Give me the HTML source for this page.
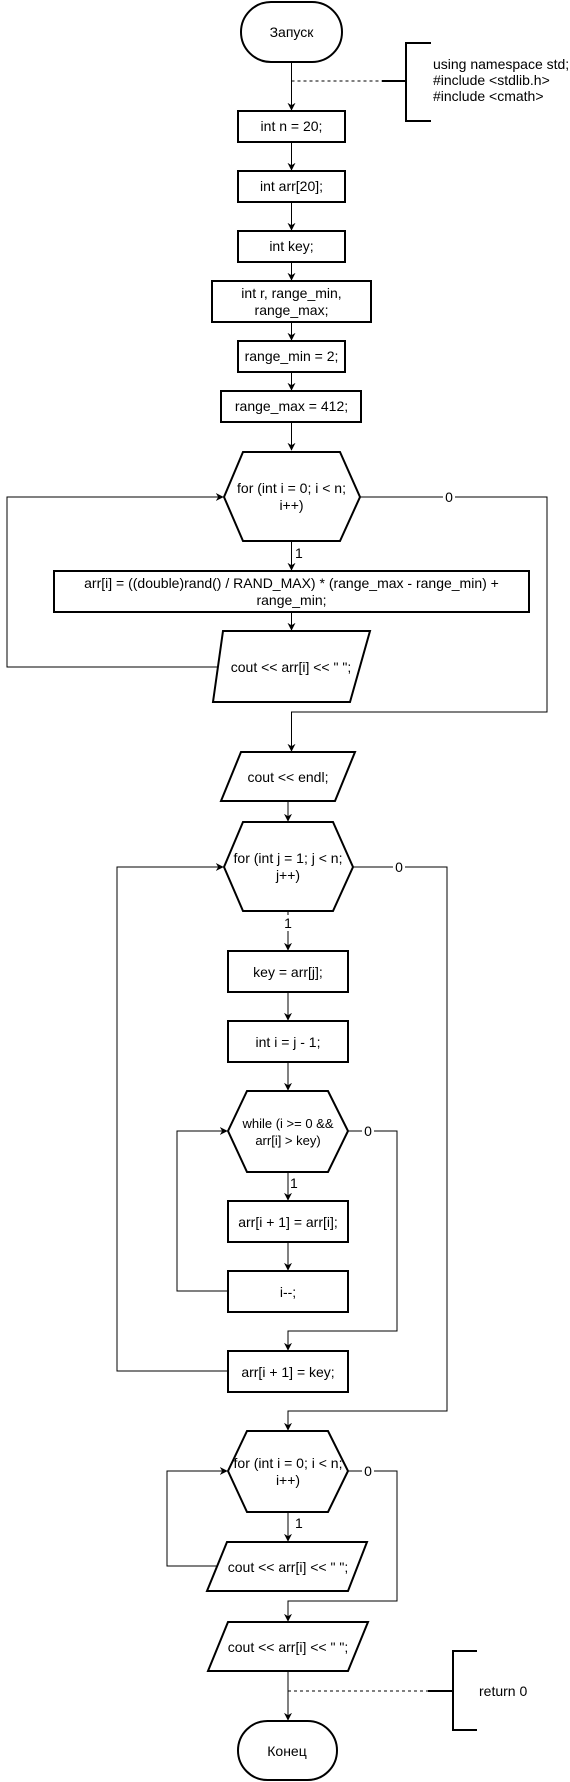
<!DOCTYPE html>
<html><head><meta charset="utf-8"><style>
html,body{margin:0;padding:0;background:#fff}
svg{display:block}
text{font-family:"Liberation Sans",Arial,"Noto Sans CJK SC",sans-serif;font-size:14px;fill:#000}
</style></head><body>
<svg width="570" height="1782" viewBox="0 0 570 1782" xmlns="http://www.w3.org/2000/svg">
<defs>
<marker id="a" viewBox="0 0 10 10" refX="9" refY="5" markerWidth="8" markerHeight="8" orient="auto" markerUnits="userSpaceOnUse">
<path d="M0,0 L10,5 L0,10 L3,5 z" fill="#000"/>
</marker>
</defs>
<g fill="none" stroke="#000" stroke-width="1">
<!-- top chain -->
<line x1="291.5" y1="62" x2="291.5" y2="110" marker-end="url(#a)"/>
<line x1="291.5" y1="142" x2="291.5" y2="170" marker-end="url(#a)"/>
<line x1="291.5" y1="202" x2="291.5" y2="230" marker-end="url(#a)"/>
<line x1="291.5" y1="262" x2="291.5" y2="280" marker-end="url(#a)"/>
<line x1="291.5" y1="322" x2="291.5" y2="340" marker-end="url(#a)"/>
<line x1="291.5" y1="372" x2="291.5" y2="390" marker-end="url(#a)"/>
<line x1="291.5" y1="422" x2="291.5" y2="450" marker-end="url(#a)"/>
<line x1="291.5" y1="541" x2="291.5" y2="570" marker-end="url(#a)"/>
<line x1="291.5" y1="612" x2="291.5" y2="630" marker-end="url(#a)"/>
<!-- loop 1 -->
<polyline points="218,667 7,667 7,497 223,497" marker-end="url(#a)"/>
<polyline points="360,497 547,497 547,712 291.5,712 291.5,751" marker-end="url(#a)"/>
<line x1="288" y1="801" x2="288" y2="821" marker-end="url(#a)"/>
<!-- for j -->
<line x1="288" y1="911" x2="288" y2="950" marker-end="url(#a)"/>
<line x1="288" y1="992" x2="288" y2="1020" marker-end="url(#a)"/>
<line x1="288" y1="1062" x2="288" y2="1090" marker-end="url(#a)"/>
<line x1="288" y1="1172" x2="288" y2="1200" marker-end="url(#a)"/>
<line x1="288" y1="1242" x2="288" y2="1270" marker-end="url(#a)"/>
<polyline points="228,1291 177,1291 177,1131 227,1131" marker-end="url(#a)"/>
<polyline points="348,1131 397,1131 397,1331 288,1331 288,1350" marker-end="url(#a)"/>
<polyline points="228,1371 117,1371 117,867 223,867" marker-end="url(#a)"/>
<polyline points="353,867 447,867 447,1411 288,1411 288,1430" marker-end="url(#a)"/>
<!-- for 3 -->
<line x1="288" y1="1512" x2="288" y2="1541" marker-end="url(#a)"/>
<polyline points="218,1566 167,1566 167,1471 227,1471" marker-end="url(#a)"/>
<polyline points="348,1471 397,1471 397,1601 288,1601 288,1621" marker-end="url(#a)"/>
<line x1="288" y1="1671" x2="288" y2="1720" marker-end="url(#a)"/>
<!-- comments -->
<line x1="291.5" y1="81" x2="382" y2="81" stroke-dasharray="3,3"/>
<line x1="288" y1="1691" x2="428" y2="1691" stroke-dasharray="3,3"/>
</g>
<g fill="none" stroke="#000" stroke-width="2">
<line x1="382" y1="81" x2="406" y2="81"/>
<polyline points="431,43 406,43 406,121 431,121"/>
<line x1="428" y1="1691" x2="453" y2="1691"/>
<polyline points="477,1651 453,1651 453,1730 477,1730"/>
<rect x="241" y="2" width="101" height="60" rx="30" fill="#fff"/>
<rect x="238" y="111" width="107" height="31" fill="#fff"/>
<rect x="238" y="171" width="107" height="31" fill="#fff"/>
<rect x="238" y="231" width="107" height="31" fill="#fff"/>
<rect x="212" y="281" width="159" height="41" fill="#fff"/>
<rect x="238" y="341" width="107" height="31" fill="#fff"/>
<rect x="221" y="391" width="140" height="31" fill="#fff"/>
<polygon points="243,452 340,452 360,497 340,541 243,541 224,497" fill="#fff"/>
<rect x="54" y="571" width="475" height="41" fill="#fff"/>
<polygon points="223,631 370,631 350,702 213,702" fill="#fff"/>
<polygon points="241,752 355,752 335,801 221,801" fill="#fff"/>
<polygon points="243,822 333,822 353,867 333,911 243,911 224,867" fill="#fff"/>
<rect x="228" y="951" width="120" height="41" fill="#fff"/>
<rect x="228" y="1021" width="120" height="41" fill="#fff"/>
<polygon points="247,1091 328,1091 348,1131 328,1172 247,1172 228,1131" fill="#fff"/>
<rect x="228" y="1201" width="120" height="41" fill="#fff"/>
<rect x="228" y="1271" width="120" height="41" fill="#fff"/>
<rect x="228" y="1351" width="120" height="41" fill="#fff"/>
<polygon points="247,1431 328,1431 348,1471 328,1512 247,1512 228,1471" fill="#fff"/>
<polygon points="227,1542 367,1542 348,1591 207,1591" fill="#fff"/>
<polygon points="228,1622 368,1622 348,1671 208,1671" fill="#fff"/>
<rect x="238" y="1721" width="99" height="59" rx="29.5" fill="#fff"/>
</g>
<!-- labels with white bg -->
<rect x="443" y="489" width="12" height="16" fill="#fff"/>
<rect x="393" y="859" width="12" height="16" fill="#fff"/>
<rect x="362" y="1123" width="12" height="16" fill="#fff"/>
<rect x="362" y="1463" width="12" height="16" fill="#fff"/>
<rect x="283" y="915" width="12" height="16" fill="#fff"/>
<g text-anchor="middle">
<text x="291.5" y="37">Запуск</text>
<text x="291.5" y="131">int n = 20;</text>
<text x="291.5" y="191">int arr[20];</text>
<text x="291.5" y="251">int key;</text>
<text x="291.5" y="298">int r, range_min,</text>
<text x="291.5" y="315">range_max;</text>
<text x="291.5" y="361">range_min = 2;</text>
<text x="291.5" y="411">range_max = 412;</text>
<text x="291.5" y="493">for (int i = 0; i &lt; n;</text>
<text x="291.5" y="510">i++)</text>
<text x="291.5" y="588">arr[i] = ((double)rand() / RAND_MAX) * (range_max - range_min) +</text>
<text x="291.5" y="605">range_min;</text>
<text x="291" y="672">cout &lt;&lt; arr[i] &lt;&lt; " ";</text>
<text x="288" y="782">cout &lt;&lt; endl;</text>
<text x="288" y="863">for (int j = 1; j &lt; n;</text>
<text x="288" y="880">j++)</text>
<text x="288" y="977">key = arr[j];</text>
<text x="288" y="1047">int i = j - 1;</text>
<text x="288" y="1128" style="font-size:13px">while (i &gt;= 0 &amp;&amp;</text>
<text x="288" y="1145" style="font-size:13px">arr[i] &gt; key)</text>
<text x="288" y="1227">arr[i + 1] = arr[i];</text>
<text x="288" y="1297">i--;</text>
<text x="288" y="1377">arr[i + 1] = key;</text>
<text x="288" y="1468">for (int i = 0; i &lt; n;</text>
<text x="288" y="1485">i++)</text>
<text x="288" y="1572">cout &lt;&lt; arr[i] &lt;&lt; " ";</text>
<text x="288" y="1652">cout &lt;&lt; arr[i] &lt;&lt; " ";</text>
<text x="287" y="1756">Конец</text>
<text x="449" y="502">0</text>
<text x="399" y="872">0</text>
<text x="368" y="1136">0</text>
<text x="368" y="1476">0</text>
<text x="288" y="928">1</text>
</g>
<text x="295" y="558">1</text>
<text x="290" y="1188">1</text>
<text x="295" y="1528">1</text>
<text x="433" y="69">using namespace std;</text>
<text x="433" y="85">#include &lt;stdlib.h&gt;</text>
<text x="433" y="101">#include &lt;cmath&gt;</text>
<text x="479" y="1696">return 0</text>
</svg>
</body></html>
